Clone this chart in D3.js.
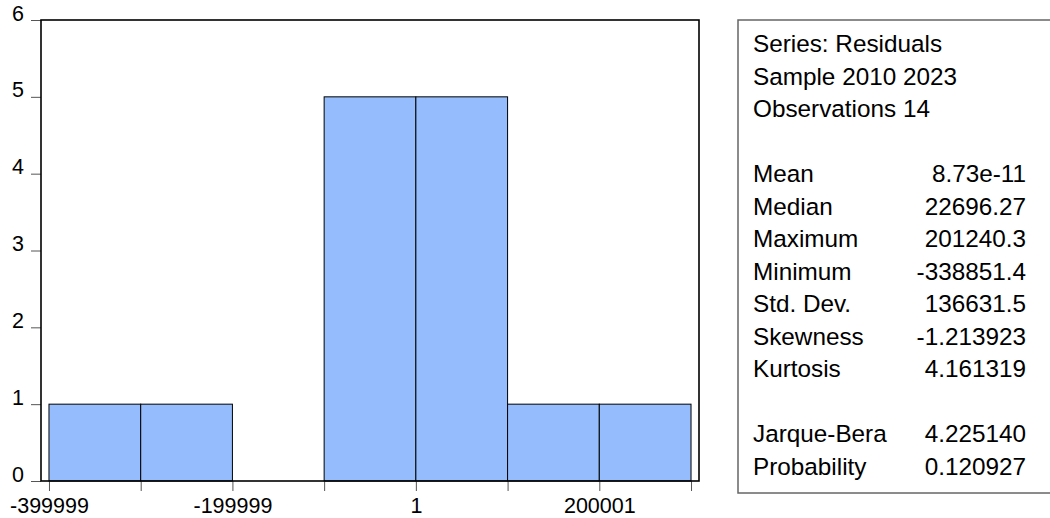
<!DOCTYPE html>
<html>
<head>
<meta charset="utf-8">
<script src="https://cdn.jsdelivr.net/npm/d3@7"></script>
<style>
  html, body { margin: 0; padding: 0; background: #fff; }
  svg { display: block; font-family: "Liberation Sans", Arial, sans-serif; }
</style>
</head>
<body>
<svg id="chart" width="1050" height="518"></svg>
<script>
// ---- data ----
const binStarts = [-399999, -299999, -199999, -99999, 1, 100001, 200001];
const binWidth = 100000;
const counts = [1, 1, 0, 5, 5, 1, 1];
const xTickLabels = [-399999, -199999, 1, 200001];
const yTicks = [0, 1, 2, 3, 4, 5, 6];
const headerLines = ["Series: Residuals", "Sample 2010 2023", "Observations 14"];
const statNames = ["Mean", "Median", "Maximum", "Minimum", "Std. Dev.", "Skewness", "Kurtosis"];
const statValues = ["8.73e-11", "22696.27", "201240.3", "-338851.4", "136631.5", "-1.213923", "4.161319"];
const testNames = ["Jarque-Bera", "Probability"];
const testValues = ["4.225140", "0.120927"];

// ---- layout ----
const svg = d3.select("#chart");
const plot = { left: 41, top: 20, right: 699, bottom: 481 };
const pad = binWidth * 0.087;
const x = d3.scaleLinear()
  .domain([binStarts[0] - pad, binStarts[binStarts.length - 1] + binWidth + pad])
  .range([plot.left, plot.right]);
const y = d3.scaleLinear().domain([0, 6]).range([plot.bottom, plot.top]);

const edges = binStarts.concat([binStarts[binStarts.length - 1] + binWidth]);

// bars
svg.append("g").selectAll("rect")
  .data(binStarts.map((s, i) => ({ s, c: counts[i] })).filter(d => d.c > 0))
  .join("rect")
  .attr("x", d => x(d.s))
  .attr("y", d => y(d.c))
  .attr("width", d => x(d.s + binWidth) - x(d.s))
  .attr("height", d => y(0) - y(d.c))
  .attr("fill", "#95bdfd")
  .attr("stroke", "#000")
  .attr("stroke-width", 1);

// x axis ticks (every bin edge), labels every other
const xAxis = d3.axisBottom(x)
  .tickValues(edges)
  .tickSize(10)
  .tickFormat(d => xTickLabels.includes(d) ? String(d) : "");
const gx = svg.append("g")
  .attr("transform", `translate(0,${plot.bottom})`)
  .call(xAxis);
gx.select(".domain").remove();
gx.selectAll(".tick line").attr("stroke", "#555").attr("stroke-width", 1);
gx.selectAll(".tick text")
  .attr("fill", "#000")
  .attr("font-size", "21.5px")
  .attr("y", 17)
  .attr("dy", "0.71em")
  .attr("font-family", "'Liberation Sans', Arial, sans-serif");

// y axis
const yAxis = d3.axisLeft(y).tickValues(yTicks).tickSize(10).tickFormat(d3.format("d"));
const gy = svg.append("g")
  .attr("transform", `translate(${plot.left},0)`)
  .call(yAxis);
gy.select(".domain").remove();
gy.selectAll(".tick line").attr("stroke", "#555").attr("stroke-width", 1);
gy.selectAll(".tick text")
  .attr("fill", "#000")
  .attr("font-size", "21.5px")
  .attr("x", -17)
  .attr("dy", "0.0em")
  .attr("font-family", "'Liberation Sans', Arial, sans-serif");

// frame
svg.append("rect")
  .attr("x", plot.left).attr("y", plot.top)
  .attr("width", plot.right - plot.left)
  .attr("height", plot.bottom - plot.top)
  .attr("fill", "none")
  .attr("stroke", "#000")
  .attr("stroke-width", 1.6);

// stats box
const box = { left: 738, top: 20, right: 1056, bottom: 493 };
svg.append("rect")
  .attr("x", box.left).attr("y", box.top)
  .attr("width", box.right - box.left)
  .attr("height", box.bottom - box.top)
  .attr("fill", "#fff")
  .attr("stroke", "#666")
  .attr("stroke-width", 1.5);

const lineStep = 32.5;
const firstBase = 52;
const textX = 753;
const valX = 1026;
const rows = [];
headerLines.forEach((t, i) => rows.push({ k: i, name: t, val: "" }));
statNames.forEach((t, i) => rows.push({ k: 4 + i, name: t, val: statValues[i] }));
testNames.forEach((t, i) => rows.push({ k: 12 + i, name: t, val: testValues[i] }));

const gs = svg.append("g").attr("font-size", "24.3px").attr("fill", "#000");
gs.selectAll("text.name").data(rows).join("text")
  .attr("class", "name")
  .attr("x", textX)
  .attr("y", d => firstBase + d.k * lineStep)
  .text(d => d.name);
gs.selectAll("text.val").data(rows.filter(d => d.val)).join("text")
  .attr("class", "val")
  .attr("x", valX)
  .attr("y", d => firstBase + d.k * lineStep)
  .attr("text-anchor", "end")
  .text(d => d.val);
</script>
</body>
</html>
